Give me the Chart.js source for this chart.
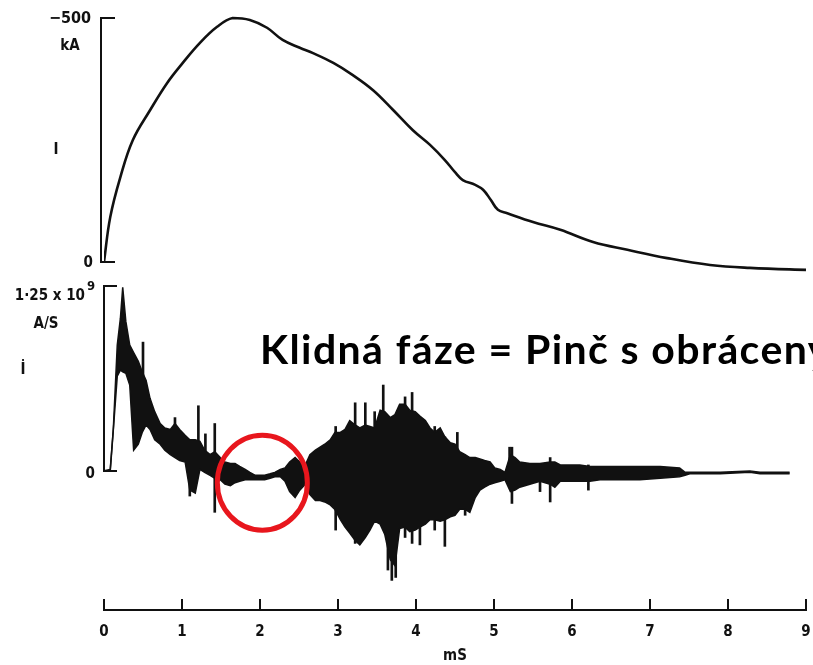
<!DOCTYPE html>
<html>
<head>
<meta charset="utf-8">
<script src="https://cdn.jsdelivr.net/npm/chart.js@4.4.1/dist/chart.umd.min.js"></script>
<style>
  html, body { margin: 0; padding: 0; background: #fff; }
  #wrap { width: 813px; height: 665px; position: relative; }
</style>
</head>
<body>
<div id="wrap"><canvas id="pinchChart" width="813" height="665"></canvas></div>
<script>
// ============================================================
// Proud výboje I a jeho derivace dI/dt (sken grafu)
// ============================================================

// --- horní panel: proud I [kA] ---
const iTimes  = [0.00, 0.08, 0.21, 0.37, 0.59, 0.81, 1.01, 1.23, 1.45, 1.65, 1.87, 2.09, 2.29, 2.51, 2.68, 2.94, 3.19, 3.45, 3.71, 3.96, 4.18, 4.37, 4.50, 4.60, 4.76, 4.86, 4.96, 5.05, 5.17, 5.50, 5.85, 6.27, 6.71, 7.22, 7.77, 8.28, 9.00, 9.09];
const iValues = [0, -92, -174, -250, -311, -367, -408, -449, -482, -500, -496, -480, -455, -439, -428, -408, -383, -352, -311, -270, -240, -209, -184, -168, -158, -148, -127, -107, -100, -82, -66, -41, -25, -8, 6, 12, 16, 16];

// --- dolní panel: dI/dt [10^9 A/s], obálka zašuměného signálu ---
const dTimes = [0.00, 0.08, 0.12, 0.17, 0.21, 0.24, 0.28, 0.33, 0.38, 0.44, 0.49, 0.54, 0.59, 0.65, 0.72, 0.78, 0.85, 0.91, 0.97, 1.04,
                1.10, 1.17, 1.23, 1.29, 1.36, 1.42, 1.49, 1.55, 1.62, 1.68, 1.74, 1.81, 1.87, 1.94, 2.00, 2.06, 2.13, 2.19, 2.26, 2.32,
                2.38, 2.45, 2.51, 2.58, 2.64, 2.71, 2.77, 2.83, 2.90, 2.96, 3.03, 3.09, 3.15, 3.22, 3.28, 3.35, 3.41, 3.47, 3.54, 3.60,
                3.67, 3.73, 3.79, 3.86, 3.92, 3.99, 4.05, 4.12, 4.18, 4.24, 4.31, 4.37, 4.44, 4.50, 4.56, 4.63, 4.69, 4.76, 4.82, 4.88,
                4.95, 5.01, 5.08, 5.14, 5.21, 5.27, 5.33, 5.46, 5.59, 5.72, 5.78, 5.85, 5.97, 6.10, 6.23, 6.36, 6.62, 6.87, 7.13, 7.38,
                7.45, 7.51, 7.90, 8.28, 8.41, 8.79];
const dUpper = [0.00, 0.01, 0.29, 0.85, 1.03, 1.24, 1.01, 0.85, 0.80, 0.74, 0.67, 0.61, 0.49, 0.40, 0.32, 0.29, 0.28, 0.32, 0.28, 0.24,
                0.21, 0.21, 0.20, 0.14, 0.11, 0.13, 0.09, 0.06, 0.05, 0.05, 0.03, 0.01, -0.01, -0.03, -0.03, -0.03, -0.02, -0.01, 0.01, 0.02,
                0.06, 0.09, 0.06, 0.04, 0.11, 0.14, 0.16, 0.18, 0.21, 0.26, 0.26, 0.28, 0.34, 0.31, 0.29, 0.31, 0.30, 0.29, 0.41, 0.40,
                0.36, 0.38, 0.45, 0.45, 0.41, 0.40, 0.37, 0.34, 0.29, 0.26, 0.29, 0.23, 0.19, 0.18, 0.13, 0.11, 0.09, 0.09, 0.08, 0.07,
                0.06, 0.02, 0.01, -0.01, 0.11, 0.09, 0.06, 0.05, 0.05, 0.06, 0.06, 0.04, 0.04, 0.04, 0.03, 0.03, 0.03, 0.03, 0.03, 0.02,
                -0.01, -0.01, -0.01, 0.00, -0.01, -0.01];
const dLower = [0.00, 0.00, 0.28, 0.64, 0.68, 0.67, 0.66, 0.58, 0.14, 0.18, 0.26, 0.31, 0.28, 0.21, 0.18, 0.14, 0.11, 0.09, 0.07, 0.06,
                -0.13, -0.15, 0.01, -0.01, -0.03, -0.05, -0.06, -0.09, -0.10, -0.08, -0.07, -0.06, -0.06, -0.06, -0.06, -0.06, -0.05, -0.04, -0.04, -0.07,
                -0.14, -0.18, -0.13, -0.09, -0.16, -0.20, -0.20, -0.21, -0.23, -0.26, -0.33, -0.38, -0.42, -0.47, -0.50, -0.45, -0.40, -0.34, -0.36, -0.43,
                -0.60, -0.64, -0.39, -0.38, -0.41, -0.40, -0.38, -0.36, -0.33, -0.33, -0.34, -0.33, -0.31, -0.30, -0.26, -0.26, -0.28, -0.18, -0.13, -0.11,
                -0.09, -0.08, -0.07, -0.06, -0.14, -0.13, -0.11, -0.09, -0.07, -0.09, -0.11, -0.07, -0.07, -0.07, -0.07, -0.06, -0.06, -0.06, -0.05, -0.04,
                -0.03, -0.02, -0.02, -0.01, -0.02, -0.02];

// jednotlivé špičky signálu
const spikeTimes  = [0.50, 0.91, 1.10, 1.21, 1.30, 1.42, 2.97, 3.22, 3.35, 3.47, 3.58, 3.64, 3.69, 3.74, 3.86, 3.95, 4.05, 4.24, 4.37, 4.53, 4.63, 5.20, 5.23, 5.59, 5.72, 6.21];
const spikeTop    = [0.87, 0.36, 0.20, 0.44, 0.25, 0.32, 0.30, 0.46, 0.46, 0.40, 0.58, 0.34, 0.28, 0.35, 0.50, 0.53, 0.30, 0.30, 0.23, 0.26, 0.10, 0.16, 0.16, 0.04, 0.09, 0.04];
const spikeBottom = [0.48, 0.21, -0.17, 0.14, 0.05, -0.28, -0.40, -0.49, 0.00, 0.00, -0.30, -0.67, -0.74, -0.72, -0.45, -0.49, -0.50, -0.40, -0.51, -0.20, -0.30, 0.00, -0.22, -0.14, -0.21, -0.13];

// osa x
const xTicks = [0, 1, 2, 3, 4, 5, 6, 7, 8, 9];
const xTitle = 'mS';

// popisky os (jak v originále)
const iAxisLabels = { top: '\u2212500', unit: 'kA', name: 'I', zero: '0' };
const dAxisLabels = { top: '1\u00b725 x 10', exp: '9', unit: 'A/S', name: '\u0130', zero: '0' };

// vyznačená klidná fáze
const quietCenter = { t: 2.03, v: -0.08 };
const noteText = 'Klidná fáze = Pinč s obráceným polem';

const INK = '#111111';
const LABEL_FAMILY = '"Liberation Sans Narrow", "DejaVu Sans Condensed", sans-serif';
const LABEL_FONT = 'bold 15px ' + LABEL_FAMILY;

/**
 * Plugin: bracket axes, upward ticks, labels, red circle and the note
 */
const scanDecorPlugin = {
  id: 'scanDecor',
  afterDraw(chart) {
    const { ctx, chartArea, scales } = chart;
    const x = scales.x, yI = scales.yI, yD = scales.yD;
    ctx.save();
    ctx.strokeStyle = INK;
    ctx.fillStyle = INK;
    ctx.lineWidth = 2;

    // upward ticks on the time axis
    xTicks.forEach(t => {
      const px = x.getPixelForValue(t);
      ctx.beginPath();
      ctx.moveTo(px, chartArea.bottom);
      ctx.lineTo(px, chartArea.bottom - 11);
      ctx.stroke();
    });

    // bracket of the I panel
    const iTop = yI.getPixelForValue(-500), iZero = yI.getPixelForValue(0);
    const bx1 = chartArea.left - 3;
    ctx.beginPath();
    ctx.moveTo(bx1 + 14, iTop); ctx.lineTo(bx1, iTop);
    ctx.lineTo(bx1, iZero); ctx.lineTo(bx1 + 14, iZero);
    ctx.stroke();

    // bracket of the dI/dt panel
    const dTop = yD.getPixelForValue(1.25), dZero = yD.getPixelForValue(0);
    const bx2 = chartArea.left;
    ctx.beginPath();
    ctx.moveTo(bx2 + 13, dTop); ctx.lineTo(bx2, dTop);
    ctx.lineTo(bx2, dZero); ctx.lineTo(bx2 + 13, dZero);
    ctx.stroke();

    // axis labels
    ctx.font = 'bold 16px ' + LABEL_FAMILY;
    ctx.textBaseline = 'middle';
    ctx.textAlign = 'right';
    ctx.fillText(iAxisLabels.top, 91, iTop + 1);
    ctx.font = LABEL_FONT;
    ctx.fillText(iAxisLabels.zero, 93, iZero + 1);
    ctx.textAlign = 'center';
    ctx.fillText(iAxisLabels.unit, 70, iTop + 28);
    ctx.fillText(iAxisLabels.name, 56, 150);

    ctx.textAlign = 'right';
    ctx.fillText(dAxisLabels.top, 85, dTop + 10);
    ctx.fillText(dAxisLabels.zero, 95, dZero + 3);
    ctx.textAlign = 'left';
    ctx.font = 'bold 13px ' + LABEL_FAMILY;
    ctx.fillText(dAxisLabels.exp, 87, dTop + 1);
    ctx.font = LABEL_FONT;
    ctx.textAlign = 'center';
    ctx.fillText(dAxisLabels.unit, 46, dTop + 38);
    ctx.fillText(dAxisLabels.name, 23, dTop + 84);

    // red circle around the quiet phase
    ctx.strokeStyle = '#e8161d';
    ctx.lineWidth = 5;
    ctx.beginPath();
    ctx.ellipse(x.getPixelForValue(quietCenter.t), yD.getPixelForValue(quietCenter.v), 45, 47.5, 0, 0, Math.PI * 2);
    ctx.stroke();

    // note text (runs off the right edge, as in the slide)
    ctx.fillStyle = '#000';
    ctx.font = 'bold 41px Lato, "Open Sans", sans-serif';
    ctx.letterSpacing = '1.4px';
    ctx.textAlign = 'left';
    ctx.textBaseline = 'alphabetic';
    ctx.fillText(noteText, 260, 364);

    ctx.restore();
  }
};

function initPinchChart() {
  const canvas = document.getElementById('pinchChart');
  if (!canvas) return;

  new Chart(canvas, {
    data: {
      datasets: [
        {
          type: 'line',
          label: 'I',
          data: iTimes.map((t, i) => ({ x: t, y: iValues[i] })),
          yAxisID: 'yI',
          borderColor: INK,
          borderWidth: 2.6,
          pointRadius: 0,
          tension: 0.4,
          fill: false,
          clip: { left: 0, top: 4, right: 8, bottom: 4 }
        },
        {
          type: 'line',
          label: 'dI/dt upper',
          data: dTimes.map((t, i) => ({ x: t, y: dUpper[i] })),
          yAxisID: 'yD',
          borderColor: INK,
          borderWidth: 1.5,
          pointRadius: 0,
          tension: 0,
          fill: false
        },
        {
          type: 'line',
          label: 'dI/dt lower',
          data: dTimes.map((t, i) => ({ x: t, y: dLower[i] })),
          yAxisID: 'yD',
          borderColor: INK,
          borderWidth: 1.5,
          backgroundColor: INK,
          pointRadius: 0,
          tension: 0,
          fill: '-1'
        },
        {
          type: 'bar',
          label: 'spikes',
          data: spikeTimes.map((t, i) => ({ x: t, y: [spikeBottom[i], spikeTop[i]] })),
          yAxisID: 'yD',
          backgroundColor: INK,
          barThickness: 2
        }
      ]
    },
    plugins: [scanDecorPlugin],
    options: {
      responsive: false,
      animation: false,
      layout: { padding: { left: 104, right: 7, top: 18, bottom: 0 } },
      plugins: {
        legend: { display: false },
        tooltip: { enabled: false }
      },
      scales: {
        x: {
          type: 'linear',
          min: 0,
          max: 9,
          offset: false,
          afterFit: (scale) => {
            scale.height = 55;
            scale.paddingLeft = 0;
            scale.paddingRight = 0;
          },
          grid: { display: false, drawTicks: false },
          border: { display: true, color: INK, width: 2 },
          ticks: {
            stepSize: 1,
            padding: 13,
            color: INK,
            font: { family: LABEL_FAMILY, size: 15, weight: 'bold' }
          },
          title: {
            display: true,
            text: xTitle,
            color: INK,
            padding: { top: 2, bottom: 0 },
            font: { family: LABEL_FAMILY, size: 15, weight: 'bold' }
          }
        },
        // -500 kA sits at the top of the chart area, 0 kA about 244 px lower
        yI: { type: 'linear', display: false, reverse: true, min: -500, max: 713 },
        // 1.25e9 A/s at y=286, 0 at y=471
        yD: { type: 'linear', display: false, min: -0.94, max: 3.06 }
      }
    }
  });
}

document.addEventListener('DOMContentLoaded', initPinchChart);
</script>
</body>
</html>
